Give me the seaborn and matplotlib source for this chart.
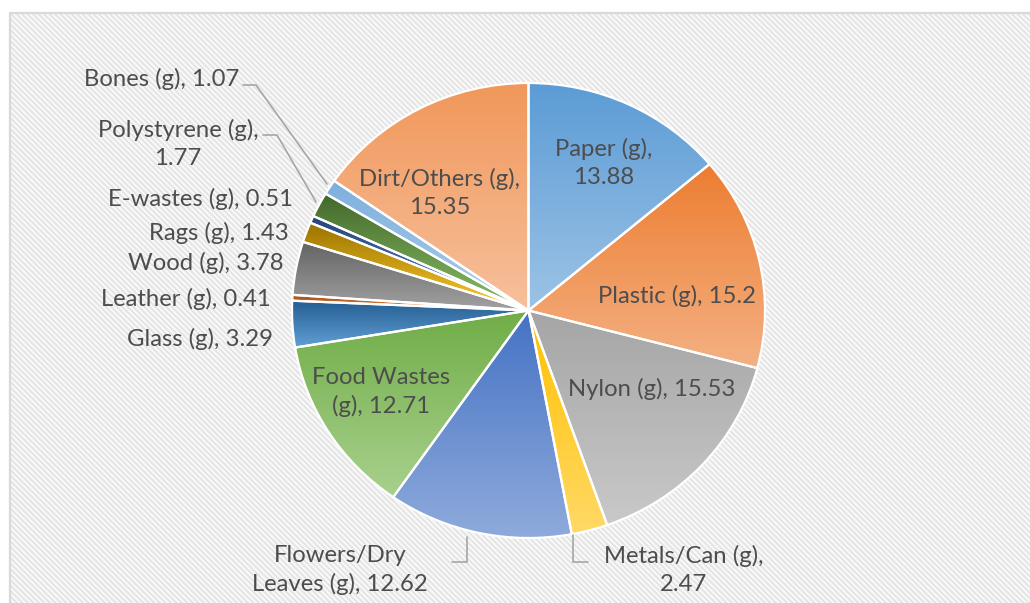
import colorsys

import numpy as np
import matplotlib
matplotlib.use("Agg")
import matplotlib.pyplot as plt
from matplotlib.colors import to_rgb
from matplotlib.patches import Rectangle
import seaborn as sns

# Waste composition (grams), clockwise from 12 o'clock
categories = ["Paper (g)", "Plastic (g)", "Nylon (g)", "Metals/Can (g)",
              "Flowers/Dry Leaves (g)", "Food Wastes (g)", "Glass (g)",
              "Leather (g)", "Wood (g)", "Rags (g)", "E-wastes (g)",
              "Polystyrene (g)", "Bones (g)", "Dirt/Others (g)"]
weights = [13.88, 15.2, 15.53, 2.47, 12.62, 12.71, 3.29,
           0.41, 3.78, 1.43, 0.51, 1.77, 1.07, 15.35]
slice_colors = ["#5B9BD5", "#ED7D31", "#A5A5A5", "#FFC000", "#4472C4",
                "#70AD47", "#255E91", "#9E480E", "#636363", "#997300",
                "#264478", "#43682B", "#7CAFDD", "#F1975A"]

sns.set_theme(style="white")
plt.rcParams["font.family"] = ["Lato", "DejaVu Sans"]
palette = sns.color_palette(slice_colors)

W, H = 1030, 603
# pie geometry in pixels (centre and radii)
CX, CY, RX, RY = 528.5, 310.5, 236.5, 227.5


def to_data(x, y):
    return (x - CX) / RX, (CY - y) / RY


def lighter(rgb, amount=0.4):
    h, l, s = colorsys.rgb_to_hls(*rgb)
    return colorsys.hls_to_rgb(h, l + (1 - l) * amount, s)


fig = plt.figure(figsize=(W / 100, H / 100), dpi=100)
fig.patch.set_facecolor("white")

# diagonal-striped chart area
FX, FY = 10, 13
rows, cols = H - FY, W - FX
rr, cc = np.mgrid[0:rows, 0:cols]
t = 0.5 + 0.5 * np.cos(2 * np.pi * (cc - rr) / 5.5)
shade = 0.985 - 0.095 * t
bg = np.dstack([shade, shade, shade])
fig.figimage(bg, xo=FX, yo=0, origin="upper", zorder=0)
fig.add_artist(Rectangle((FX / W, -0.01), (W - FX) / W + 0.01, (H - FY) / H + 0.01,
                         transform=fig.transFigure, fill=False,
                         edgecolor="#D9D9D9", linewidth=1.6, zorder=0.5))

ax = fig.add_axes([0, 0, 1, 1])
ax.set_zorder(1)
wedges, _ = ax.pie(weights, colors=palette, startangle=90, counterclock=False,
                   radius=1, normalize=True,
                   wedgeprops=dict(edgecolor="white", linewidth=1.6))

# vertical gradient inside each slice: theme colour on top, lighter below
for w, col in zip(wedges, palette):
    top = np.array(to_rgb(col))
    bottom = np.array(lighter(tuple(top)))
    ramp = np.linspace(0, 1, 256)[:, None]
    grad = (top[None, :] * (1 - ramp) + bottom[None, :] * ramp)[:, None, :]
    ext = w.get_path().get_extents()
    im = ax.imshow(grad, extent=(ext.x0, ext.x1, ext.y0, ext.y1),
                   origin="upper", aspect="auto", interpolation="bilinear",
                   zorder=2)
    im.set_clip_path(w)
    w.set_facecolor("none")
    w.set_zorder(3)

# label layout: pixel anchor, horizontal alignment, line-break prefix
layout = {
    "Paper (g)": (604, 163, "center", "Paper (g),"),
    "Plastic (g)": (677, 296, "center", None),
    "Nylon (g)": (652, 389, "center", None),
    "Metals/Can (g)": (684, 570, "center", "Metals/Can (g),"),
    "Flowers/Dry Leaves (g)": (340, 570, "center", "Flowers/Dry"),
    "Food Wastes (g)": (381, 392, "center", "Food Wastes"),
    "Glass (g)": (273, 339, "right", None),
    "Leather (g)": (271, 299, "right", None),
    "Wood (g)": (284, 263, "right", None),
    "Rags (g)": (289, 233, "right", None),
    "E-wastes (g)": (293, 199, "right", None),
    "Polystyrene (g)": (178, 144, "center", "Polystyrene (g),"),
    "Bones (g)": (239, 79, "right", None),
    "Dirt/Others (g)": (440, 193, "center", "Dirt/Others (g),"),
}
for name, val in zip(categories, weights):
    x, y, ha, brk = layout[name]
    label = f"{name}, {val:g}"
    if brk:
        label = label.replace(brk + " ", brk + "\n", 1)
    tx, ty = to_data(x, y)
    ax.text(tx, ty, label, ha=ha, va="center", multialignment="center",
            fontsize=17.2, color="#4D4D4D", linespacing=1.42, zorder=5)

# leader lines for the outside labels
leaders = {
    "Bones (g)": [(243, 85), (256, 85), (327, 184)],
    "Polystyrene (g)": [(263, 135), (277, 135), (316, 202)],
    "Flowers/Dry Leaves (g)": [(467, 537), (467, 562), (452, 562)],
    "Metals/Can (g)": [(573, 535), (573, 562), (588, 562)],
}
for pts in leaders.values():
    xs, ys = zip(*[to_data(px, py) for px, py in pts])
    ax.plot(xs, ys, color="#A6A6A6", linewidth=1.2, zorder=4,
            solid_joinstyle="miter")

ax.set_autoscale_on(False)
ax.set_aspect("auto")
ax.set_xlim(to_data(0, 0)[0], to_data(W, 0)[0])
ax.set_ylim(to_data(0, H)[1], to_data(0, 0)[1])
ax.axis("off")

fig.savefig("out.png", dpi=100)
